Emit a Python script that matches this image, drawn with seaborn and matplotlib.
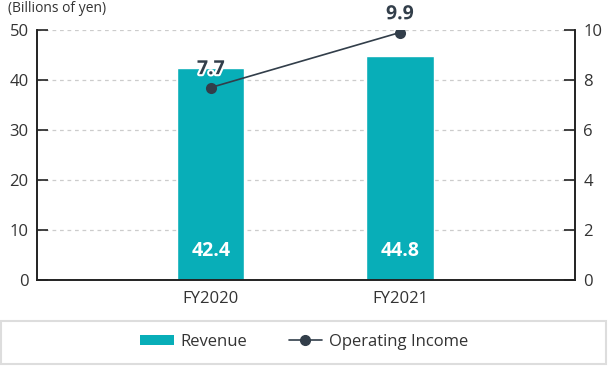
import numpy as np
import pandas as pd
import matplotlib
matplotlib.use('Agg')
import matplotlib.pyplot as plt
import matplotlib.patheffects as pe
from matplotlib.patches import Patch
from matplotlib.lines import Line2D
import seaborn as sns

years = ['FY2020', 'FY2021']
revenue = [42.4, 44.8]
op_income = [7.7, 9.9]

bar_color = '#08aeb8'
line_color = '#323e4a'
text_color = '#333333'

sns.set_style('white')
plt.rcParams['font.family'] = ['Open Sans', 'DejaVu Sans']

df = pd.DataFrame({'year': years, 'revenue': revenue, 'op': op_income})

fig = plt.figure(figsize=(6.08, 3.66), dpi=100)
ax = fig.add_axes([37 / 608, 1 - 280 / 366, 538 / 608, 250 / 366])

sns.barplot(data=df, x='year', y='revenue', color=bar_color, width=0.355,
            saturation=1, ax=ax, zorder=2)
ax.set_xlim(-0.92, 1.926)
ax.set_ylim(0, 50)
ax.set_yticks(np.arange(0, 51, 10))
ax.set_xlabel('')
ax.set_ylabel('')
ax.yaxis.grid(True, linestyle=(0, (3, 3)), color='#cccccc', linewidth=0.9, zorder=0)
ax.set_axisbelow(True)

for i, v in enumerate(revenue):
    ax.text(i, 5.9, f'{v}', color='white', fontsize=14, fontweight='bold',
            ha='center', va='center', zorder=5)

ax2 = ax.twinx()
sns.lineplot(x=[0, 1], y=op_income, color=line_color, marker='o', markersize=8,
             markeredgewidth=0, linewidth=1.2, ax=ax2, zorder=4)
ax2.set_ylim(0, 10)
ax2.set_yticks(np.arange(0, 11, 2))
for i, v in enumerate(op_income):
    ax2.annotate(f'{v}', (i, v), xytext=(0, 6), textcoords='offset points',
                 ha='center', va='bottom', fontsize=14, fontweight='bold',
                 color=line_color,
                 path_effects=[pe.withStroke(linewidth=3, foreground='white')])

for a in (ax, ax2):
    for s in ['left', 'right', 'bottom']:
        a.spines[s].set_color('#222222')
        a.spines[s].set_linewidth(1.2)
    a.spines['top'].set_visible(False)
ax.tick_params(axis='y', direction='in', length=8, width=1.2, color='#222222',
               labelsize=12, labelcolor=text_color, pad=6)
ax2.tick_params(axis='y', direction='in', length=8, width=1.2, color='#222222',
                labelsize=12, labelcolor=text_color, pad=6)
ax.tick_params(axis='x', length=0, labelsize=12, labelcolor=text_color, pad=8)

fig.text(8 / 608, 1 - 8 / 366, '(Billions of yen)', fontsize=10, color=text_color,
         ha='left', va='center')

handles = [Patch(facecolor=bar_color, edgecolor='none'),
           Line2D([0], [0], color=line_color, marker='o', markersize=7, linewidth=1.2)]
leg = fig.legend(handles, ['Revenue', 'Operating Income'], loc='center',
                 bbox_to_anchor=(0.5, 1 - 342 / 366), ncol=2, frameon=False,
                 fontsize=12, handlelength=2.0, handleheight=0.6, handletextpad=0.4,
                 columnspacing=2.5, labelcolor=text_color)
fig.patches.append(plt.Rectangle((1 / 608, 1 - 364 / 366), 605 / 608, 43 / 366,
                                 transform=fig.transFigure, fill=False,
                                 edgecolor='#dddddd', linewidth=1.5))

fig.savefig('out.png', dpi=100)
